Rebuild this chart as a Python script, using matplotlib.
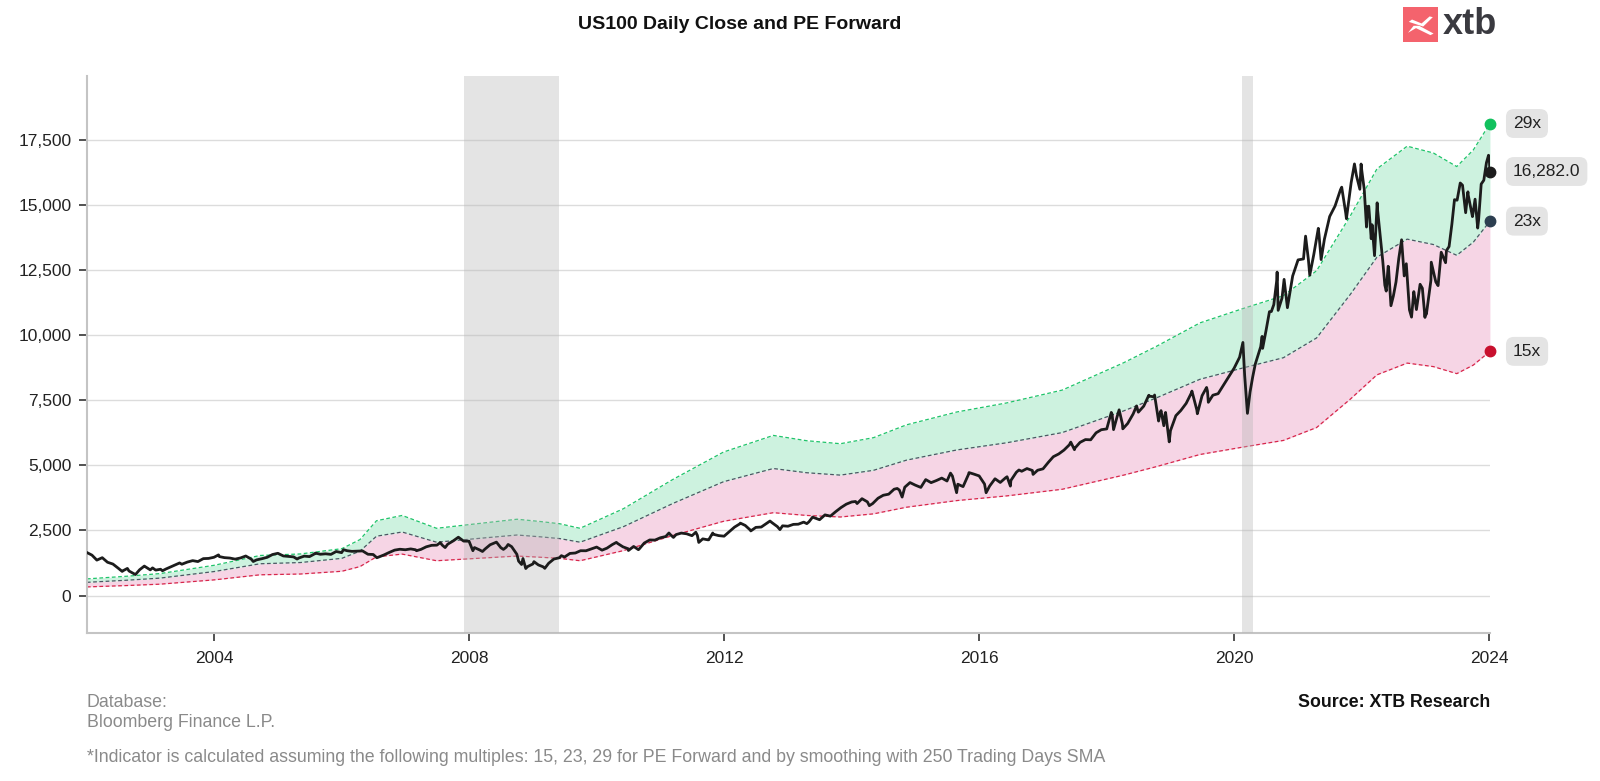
import matplotlib.pyplot as plt
import matplotlib.dates as mdates
import matplotlib.ticker as mticker
import pandas as pd
from matplotlib.patches import Rectangle, Polygon

plt.rcParams['font.family'] = ['Liberation Sans', 'DejaVu Sans']

# US100 month-end closes, Jan 2002 .. Dec 2023
close_monthly = [
    1550, 1359, 1452, 1277, 1208, 1051, 962, 942, 832, 989, 1116, 984,
    975, 1008, 1018, 1106, 1201, 1201, 1283, 1339, 1303, 1416, 1424, 1468,
    1494, 1454, 1438, 1397, 1442, 1517, 1400, 1368, 1412, 1467, 1573, 1621,
    1519, 1502, 1483, 1440, 1512, 1493, 1605, 1583, 1601, 1579, 1690, 1645,
    1720, 1695, 1703, 1712, 1584, 1575, 1475, 1559, 1654, 1743, 1776, 1757,
    1789, 1756, 1772, 1870, 1927, 1934, 1932, 1971, 2091, 2239, 2089, 2085,
    1841, 1752, 1781, 1949, 2034, 1837, 1855, 1876, 1583, 1298, 1109, 1212,
    1175, 1100, 1237, 1400, 1448, 1477, 1616, 1632, 1720, 1718, 1788, 1860,
    1741, 1818, 1956, 2000, 1868, 1794, 1884, 1780, 2016, 2133, 2128, 2217,
    2266, 2327, 2339, 2397, 2369, 2297, 2310, 2175, 2137, 2350, 2300, 2278,
    2460, 2627, 2755, 2691, 2502, 2616, 2629, 2772, 2800, 2647, 2676, 2660,
    2731, 2738, 2818, 2828, 2986, 2910, 3096, 3048, 3218, 3378, 3507, 3592,
    3531, 3718, 3596, 3530, 3736, 3850, 3891, 4082, 4050, 4158, 4337, 4236,
    4151, 4451, 4334, 4414, 4509, 4397, 4588, 4274, 4181, 4648, 4664, 4593,
    4280, 4201, 4483, 4341, 4523, 4418, 4731, 4771, 4875, 4801, 4810, 4864,
    5118, 5330, 5436, 5584, 5788, 5647, 5880, 5988, 5979, 6248, 6367, 6397,
    6950, 6856, 6581, 6606, 6968, 7040, 7272, 7657, 7628, 6968, 6949, 6330,
    6906, 7102, 7378, 7781, 7127, 7671, 7848, 7692, 7750, 8083, 8403, 8733,
    9150, 8461, 7813, 8890, 9555, 10157, 10905, 12110, 11418, 11052, 12268, 12888,
    12925, 12909, 13091, 13861, 13687, 14554, 14959, 15583, 14690, 15850, 16135, 16320,
    14930, 14237, 14838, 12855, 12643, 11504, 12947, 12272, 10971, 11406, 11951, 10939,
    12102, 12042, 13182, 13246, 14254, 15180, 15757, 15502, 14715, 14410, 15947, 16826,
]

# intra-month swings plus the first and last sessions
close_extra_dates = [
    '2002-01-02', '2002-07-23', '2002-08-22', '2002-10-07', '2002-11-27',
    '2003-01-13', '2003-03-11', '2003-06-17', '2004-01-26', '2004-08-12',
    '2005-04-20', '2005-08-03', '2006-01-11', '2006-07-21', '2007-03-05',
    '2007-07-19', '2007-08-16', '2008-01-22', '2008-03-17', '2008-06-05',
    '2008-07-15', '2008-08-11', '2008-10-10', '2008-10-27', '2008-11-04',
    '2008-11-20', '2009-01-06', '2009-03-09', '2009-06-12', '2010-04-23',
    '2010-07-01', '2010-08-27', '2011-02-18', '2011-03-16', '2011-07-22',
    '2011-08-08', '2011-10-04', '2011-10-27', '2012-04-02', '2012-06-01',
    '2012-09-19', '2012-11-15', '2013-04-18', '2013-05-21', '2014-01-22',
    '2014-04-11', '2014-09-18', '2014-10-16', '2015-07-20', '2015-08-24',
    '2015-11-03', '2016-02-09', '2016-06-08', '2016-06-27', '2016-08-15',
    '2016-11-04', '2017-06-08', '2017-06-29', '2018-01-26', '2018-02-08',
    '2018-03-12', '2018-04-02', '2018-06-20', '2018-08-29', '2018-10-01',
    '2018-10-24', '2018-11-07', '2018-11-23', '2018-12-03', '2018-12-24',
    '2019-05-03', '2019-06-03', '2019-07-26', '2019-08-05', '2020-02-19',
    '2020-03-16', '2020-04-15', '2020-06-08', '2020-06-11', '2020-07-20',
    '2020-08-14', '2020-09-02', '2020-09-08', '2020-10-12', '2021-02-12',
    '2021-03-08', '2021-04-26', '2021-05-12', '2021-09-07', '2021-10-04',
    '2021-11-19', '2021-12-20', '2021-12-27', '2022-01-14', '2022-01-27',
    '2022-02-09', '2022-02-23', '2022-03-14', '2022-03-29', '2022-05-12',
    '2022-05-20', '2022-06-02', '2022-06-16', '2022-07-15', '2022-08-16',
    '2022-09-12', '2022-10-12', '2022-10-25', '2022-11-09', '2022-12-13',
    '2022-12-28', '2023-01-05', '2023-02-02', '2023-03-13', '2023-04-25',
    '2023-05-15', '2023-06-15', '2023-07-18', '2023-08-18', '2023-09-01',
    '2023-09-26', '2023-10-11', '2023-10-26', '2023-11-15', '2023-12-15',
    '2023-12-27', '2024-01-04',
]
close_extra_values = [
    1650, 925, 1040, 804, 1130,
    1060, 950, 1250, 1560, 1305,
    1400, 1630, 1760, 1450, 1720,
    2030, 1840, 1720, 1690, 2050,
    1770, 1960, 1320, 1190, 1420,
    1036, 1300, 1043, 1530, 2040,
    1728, 1760, 2400, 2230, 2430,
    2038, 2140, 2400, 2780, 2480,
    2860, 2530, 2760, 3010, 3610,
    3450, 4110, 3780, 4700, 3948,
    4720, 3947, 4560, 4201, 4820,
    4650, 5890, 5600, 7030, 6370,
    7130, 6400, 7280, 7690, 7700,
    6700, 7100, 6520, 7030, 5899,
    7850, 6980, 7990, 7420, 9718,
    6994, 8390, 9950, 9490, 10900,
    11170, 12420, 10950, 12140, 13800,
    12300, 14100, 12900, 15680, 14470,
    16573, 15600, 16570, 15600, 14150,
    14950, 13700, 13050, 15080, 11920,
    11690, 12620, 11128, 12040, 13660,
    12740, 10690, 11670, 10980, 11800,
    10679, 10800, 12800, 11900, 12780,
    13400, 15200, 15841, 14700, 15400,
    14550, 15220, 14110, 15800, 16620,
    16906, 16282,
]

# smoothed forward EPS behind the PE bands
eps_dates = [
    '2002-01-02', '2002-08-18', '2003-02-24', '2004-01-01', '2004-09-20',
    '2005-05-08', '2006-01-01', '2006-04-15', '2006-07-19', '2006-12-13',
    '2007-06-28', '2008-01-05', '2008-10-01', '2009-02-10', '2009-06-03',
    '2009-09-27', '2010-06-03', '2011-03-15', '2011-12-28', '2012-10-08',
    '2013-04-16', '2013-10-27', '2014-05-05', '2014-11-10', '2015-08-25',
    '2016-06-06', '2017-04-20', '2018-04-05', '2018-10-12', '2019-06-18',
    '2020-02-20', '2020-10-08', '2021-04-16', '2021-10-27', '2022-03-28',
    '2022-09-17', '2023-02-14', '2023-06-28', '2023-10-01', '2024-01-04',
]
eps_values = [
    22, 25.5, 29, 40, 53,
    55, 62, 74, 99, 106,
    89, 94, 101, 98, 95,
    89, 115, 154, 190, 212,
    205, 201, 209, 226, 243,
    255, 272, 308, 330, 361,
    380, 397, 430, 503, 565,
    595, 586, 568, 590, 625,
]

multiples = [15, 23, 29]
band_colors = {15: '#d8264b', 23: '#4b5663', 29: '#1fc46a'}
dot_colors = {15: '#c8102e', 23: '#2c3e50', 29: '#12c15e'}

recessions = [('2007-12-01', '2009-06-01'), ('2020-02-15', '2020-04-15')]

# build series
close = pd.Series(close_monthly,
                  index=pd.date_range('2002-01-31', periods=len(close_monthly), freq='ME'))
extra = pd.Series(close_extra_values, index=pd.to_datetime(close_extra_dates))
close = pd.concat([close, extra]).sort_index()

eps = pd.Series(eps_values, index=pd.to_datetime(eps_dates), dtype=float)
bands = {m: eps * m for m in multiples}

fig = plt.figure(figsize=(16, 7.81), dpi=100)
ax = fig.add_axes([0.0542, 0.1895, 0.877, 0.7132])

# bands
ax.fill_between(eps.index, bands[15], bands[23], color='#f6d5e5', lw=0, zorder=1)
ax.fill_between(eps.index, bands[23], bands[29], color='#cdf2df', lw=0, zorder=1)
for m in multiples:
    ax.plot(bands[m].index, bands[m].values, color=band_colors[m], lw=0.9,
            ls=(0, (3, 2)), zorder=2)

# recession shading
for start, end in recessions:
    ax.axvspan(pd.Timestamp(start), pd.Timestamp(end), color='#b8b8b8',
               alpha=0.38, lw=0, zorder=3)

# price
ax.plot(close.index, close.values, color='#1c1c1c', lw=2.0, zorder=4)

# end markers and labels
last = close.index[-1]
end_points = [(bands[29].iloc[-1], dot_colors[29], '29x'),
              (close.iloc[-1], '#1c1c1c', f'{close.iloc[-1]:,.1f}'),
              (bands[23].iloc[-1], dot_colors[23], '23x'),
              (bands[15].iloc[-1], dot_colors[15], '15x')]
for val, col, txt in end_points:
    ax.plot([last], [val], 'o', color=col, ms=7.5, zorder=6, clip_on=False)
    ax.annotate(txt, xy=(last, val), xytext=(23, 0), textcoords='offset pixels',
                ha='left', va='center', fontsize=12.5, color='#222222',
                bbox=dict(boxstyle='round,pad=0.4,rounding_size=0.45',
                          fc='#e4e4e4', ec='none'))

# axes styling
ax.set_xlim(pd.Timestamp('2002-01-01'), pd.Timestamp('2024-01-04'))
ax.set_ylim(-1440, 19950)
ax.xaxis.set_major_locator(mdates.YearLocator(4))
ax.xaxis.set_major_formatter(mdates.DateFormatter('%Y'))
ax.yaxis.set_major_locator(mticker.MultipleLocator(2500))
ax.yaxis.set_major_formatter(mticker.StrMethodFormatter('{x:,.0f}'))
ax.grid(axis='y', color='#dcdcdc', lw=1, zorder=0)
ax.set_axisbelow(True)
for side in ['top', 'right']:
    ax.spines[side].set_visible(False)
for side in ['left', 'bottom']:
    ax.spines[side].set_color('#c4c4c4')
    ax.spines[side].set_linewidth(1.5)
ax.tick_params(axis='both', labelsize=12.5, colors='#333333', length=6, width=1.2,
               labelcolor='#222222')
ax.tick_params(axis='y', pad=5)
ax.tick_params(axis='x', pad=7)

# title and logo
fig.text(0.4625, 0.968, 'US100 Daily Close and PE Forward', ha='center', va='center',
         fontsize=14, fontweight='bold', color='#111111')
fig.patches.append(Rectangle((0.8769, 0.946), 0.0219, 0.045, transform=fig.transFigure,
                             fc='#f4636d', ec='none'))
fig.patches.append(Polygon([(0.8805, 0.972), (0.8895, 0.966), (0.8955, 0.978),
                            (0.8935, 0.979), (0.8885, 0.970), (0.8825, 0.975)],
                           closed=True, transform=fig.transFigure, fc='white', ec='none'))
fig.patches.append(Polygon([(0.8800, 0.958), (0.8850, 0.964), (0.8940, 0.955),
                            (0.8960, 0.957), (0.8870, 0.967), (0.8835, 0.967)],
                           closed=True, transform=fig.transFigure, fc='white', ec='none'))
fig.text(0.9015, 0.968, 'xtb', ha='left', va='center', fontsize=26,
         fontweight='bold', color='#3a3a40')

# footer
grey = '#8a8a8a'
fig.text(0.0542, 0.101, 'Database:', ha='left', va='center', fontsize=12.8, color=grey)
fig.text(0.0542, 0.075, 'Bloomberg Finance L.P.', ha='left', va='center', fontsize=12.8,
         color=grey)
fig.text(0.0542, 0.030,
         '*Indicator is calculated assuming the following multiples: 15, 23, 29 for PE '
         'Forward and by smoothing with 250 Trading Days SMA',
         ha='left', va='center', fontsize=12.8, color=grey)
fig.text(0.9313, 0.100, 'Source: XTB Research', ha='right', va='center', fontsize=12.8,
         fontweight='bold', color='#111111')

fig.savefig('out.png', dpi=100)
